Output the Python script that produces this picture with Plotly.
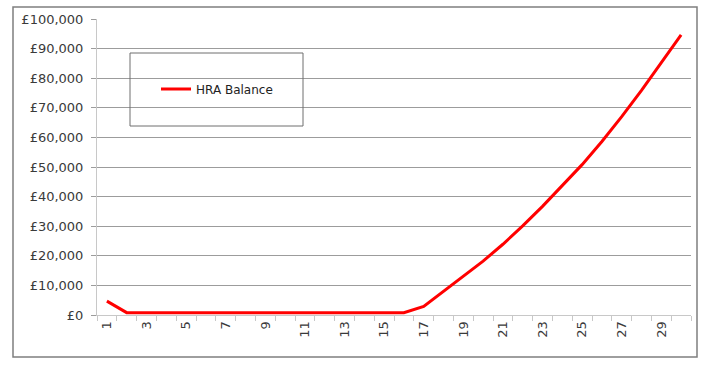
import plotly.graph_objects as go

# Year index and HRA balance (GBP)
years = list(range(1, 31))
hra_balance = [
    4700, 800, 800, 800, 800, 800, 800, 800, 800, 800,
    800, 800, 800, 800, 800, 800, 2900, 8000, 13100, 18200,
    23900, 30100, 36700, 43600, 50800, 58600, 67000, 75900, 85200, 94600,
]
series_name = "HRA Balance"
y_ticks = list(range(0, 100001, 10000))
y_labels = ["\u00a3{:,}".format(v) for v in y_ticks]
x_labels = list(range(1, 30, 2))

# page geometry (pixels)
W, H = 701, 367
ML, MR, MT, MB = 97, 10, 19, 52
PW, PH = W - ML - MR, H - MT - MB


def px_x(p):
    return (p - ML) / PW


def px_y(p):
    return (H - MB - p) / PH


grid = "#9c9c9c"
axis_grey = "#c8c8c8"
text_col = "#3a3a3a"
font_family = "DejaVu Sans"

fig = go.Figure()
fig.add_trace(go.Scatter(
    x=years, y=hra_balance, mode="lines", name=series_name,
    line=dict(color="#ff0000", width=3),
    showlegend=True,
))

fig.update_layout(
    width=W, height=H,
    margin=dict(l=ML, r=MR, t=MT, b=MB, pad=0),
    paper_bgcolor="white", plot_bgcolor="white",
    showlegend=True,
    legend=dict(
        x=px_x(156), y=px_y(89), xanchor="left", yanchor="middle",
        bgcolor="rgba(0,0,0,0)", borderwidth=0,
        font=dict(family=font_family, size=12, color="#222222"),
    ),
    xaxis=dict(
        range=[0.5, 30.5], tickmode="array", tickvals=x_labels,
        ticktext=[str(v) for v in x_labels], tickangle=-90,
        ticks="", showgrid=False, zeroline=False,
        showline=True, linecolor=axis_grey, linewidth=1,
        tickfont=dict(family=font_family, size=13, color=text_col),
        minor=dict(ticks="outside", tickvals=[v + 0.5 for v in range(0, 31)],
                   ticklen=5, tickcolor=axis_grey, tickwidth=1, showgrid=False),
        fixedrange=True,
    ),
    yaxis=dict(
        range=[0, 100000], tickmode="array", tickvals=y_ticks,
        ticktext=y_labels,
        showgrid=True, gridcolor=grid, gridwidth=1,
        zeroline=False, showline=True, linecolor=axis_grey, linewidth=1,
        ticks="outside", ticklen=5, tickcolor=grid,
        tickfont=dict(family=font_family, size=13, color=text_col),
        ticklabelstandoff=5,
        fixedrange=True,
    ),
    shapes=[
        # outer chart frame
        dict(type="rect", xref="paper", yref="paper",
             x0=px_x(13), x1=px_x(697), y0=px_y(357), y1=px_y(7),
             line=dict(color="#7f7f7f", width=1.5), fillcolor="rgba(0,0,0,0)",
             layer="below"),
        # legend frame
        dict(type="rect", xref="paper", yref="paper",
             x0=px_x(130), x1=px_x(303), y0=px_y(126), y1=px_y(53),
             line=dict(color="#6f6f6f", width=1), fillcolor="rgba(0,0,0,0)"),
    ],
)

fig.write_html("out.html")
